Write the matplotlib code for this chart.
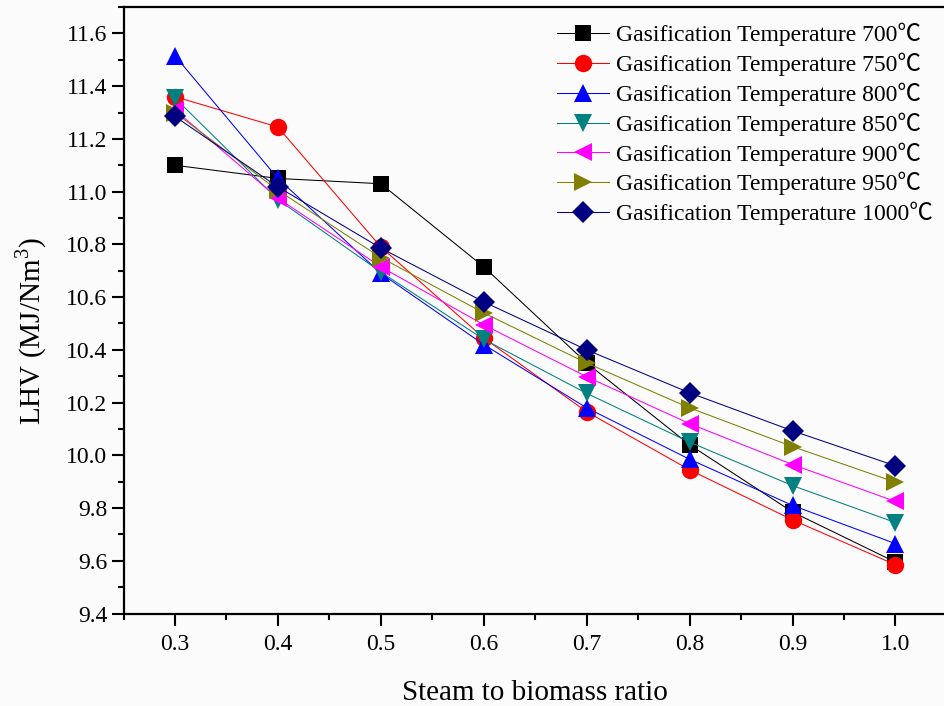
import matplotlib
matplotlib.use("Agg")
import matplotlib.pyplot as plt
from matplotlib.ticker import MultipleLocator, FormatStrFormatter

plt.rcParams['font.family'] = ['Liberation Serif', 'Noto Sans CJK SC']
plt.rcParams['mathtext.fontset'] = 'custom'
plt.rcParams['mathtext.rm'] = 'Liberation Serif'

# Steam to biomass ratio (S/B)
sb_ratio = [0.3, 0.4, 0.5, 0.6, 0.7, 0.8, 0.9, 1.0]

# LHV (MJ/Nm3) at each gasification temperature
lhv_700 = [11.10, 11.05, 11.03, 10.715, 10.35, 10.04, 9.785, 9.595]
lhv_750 = [11.36, 11.245, 10.79, 10.445, 10.165, 9.945, 9.755, 9.585]
lhv_800 = [11.515, 11.05, 10.69, 10.42, 10.18, 9.985, 9.81, 9.665]
lhv_850 = [11.355, 10.97, 10.695, 10.44, 10.235, 10.05, 9.885, 9.745]
lhv_900 = [11.31, 10.975, 10.715, 10.495, 10.298, 10.12, 9.965, 9.825]
lhv_950 = [11.30, 11.005, 10.75, 10.54, 10.35, 10.18, 10.033, 9.898]
lhv_1000 = [11.285, 11.018, 10.786, 10.582, 10.40, 10.237, 10.093, 9.96]

temperatures = ['700', '750', '800', '850', '900', '950', '1000']
series = [lhv_700, lhv_750, lhv_800, lhv_850, lhv_900, lhv_950, lhv_1000]
colors = ['#000000', '#ff0000', '#0000ff', '#008080', '#ff00ff', '#808000', '#000080']
markers = ['s', 'o', '^', 'v', '<', '>', 'D']
sizes = [11, 12.5, 13, 13, 13, 13, 11]

fig = plt.figure(figsize=(9.45, 7.06), dpi=100)
fig.patch.set_facecolor('#fbfbfb')
ax = fig.add_axes([0.1307, 0.131, 1.002 - 0.1307, 0.990 - 0.131])
ax.set_facecolor('#fbfbfb')

for temp, vals, c, m, ms in zip(temperatures, series, colors, markers, sizes):
    ax.plot(sb_ratio, vals, color=c, marker=m, markersize=ms, linewidth=0.75,
            markeredgewidth=0, label=f'Gasification Temperature {temp}\u2103')

ax.set_xlim(0.25, 1.05)
ax.set_ylim(9.4, 11.7)
ax.xaxis.set_major_locator(MultipleLocator(0.1))
ax.xaxis.set_minor_locator(MultipleLocator(0.05))
ax.yaxis.set_major_locator(MultipleLocator(0.2))
ax.yaxis.set_minor_locator(MultipleLocator(0.1))
ax.xaxis.set_major_formatter(FormatStrFormatter('%.1f'))
ax.yaxis.set_major_formatter(FormatStrFormatter('%.1f'))

for s in ax.spines.values():
    s.set_linewidth(1.6)
ax.tick_params(which='major', direction='out', length=8.5, width=1.5, labelsize=17, pad=3)
ax.tick_params(axis='x', which='major', pad=6)
ax.tick_params(which='minor', direction='out', length=4.5, width=1.5)
ax.tick_params(top=False, right=False, which='both')

ax.set_xlabel('Steam to biomass ratio', fontsize=21, labelpad=18)
ax.set_ylabel('LHV (MJ/Nm$^3$)', fontsize=21, labelpad=12.5)
ax.yaxis.label.set_y(0.466)

leg = ax.legend(loc='upper right', bbox_to_anchor=(1.0, 0.997), frameon=False,
                fontsize=17, handlelength=2.2, handletextpad=0.3, labelspacing=0.27,
                borderaxespad=0.2)

fig.savefig('out.png', dpi=100, facecolor=fig.get_facecolor())
